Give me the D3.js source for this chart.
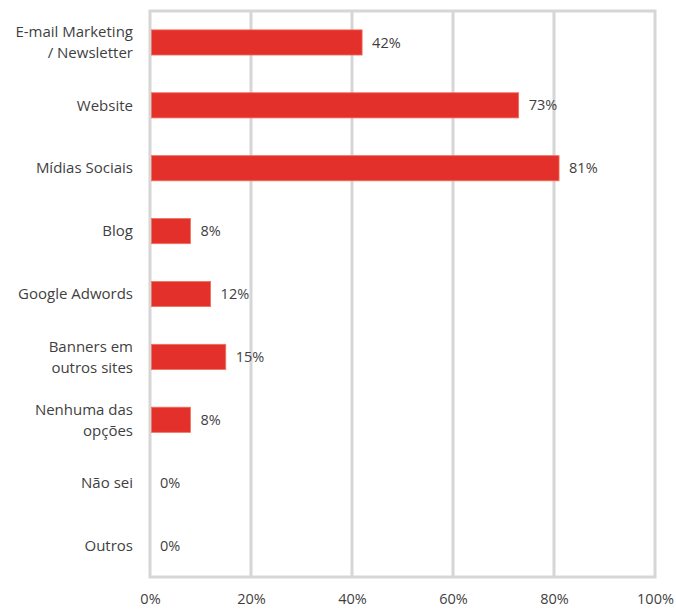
<!DOCTYPE html>
<html>
<head>
<meta charset="utf-8">
<script src="https://cdn.jsdelivr.net/npm/d3@7"></script>
<style>
  html, body { margin: 0; padding: 0; background: #fff; }
  svg { display: block; font-family: "Open Sans", "Noto Sans", sans-serif; }
</style>
</head>
<body>
<svg id="chart" width="676" height="610"></svg>
<script>
// Channels used (each label may wrap onto two lines)
const categories = [
  ["E-mail Marketing", "/ Newsletter"],
  ["Website"],
  ["Mídias Sociais"],
  ["Blog"],
  ["Google Adwords"],
  ["Banners em", "outros sites"],
  ["Nenhuma das", "opções"],
  ["Não sei"],
  ["Outros"]
];
const values = [42, 73, 81, 8, 12, 15, 8, 0, 0];
const xTicks = [0, 20, 40, 60, 80, 100];

const svg = d3.select("#chart");
const margin = { top: 11, right: 21, bottom: 33, left: 150 };
const width = 676 - margin.left - margin.right;
const height = 610 - margin.top - margin.bottom;

const g = svg.append("g").attr("transform", `translate(${margin.left},${margin.top})`);

const x = d3.scaleLinear().domain([0, 100]).range([0, width]);
const y = d3.scaleBand().domain(d3.range(categories.length)).range([0, height]).paddingInner(0.6).paddingOuter(0.3);

const gridColor = "#d6d6d6";
const textColor = "#3f3f3f";

// vertical gridlines
g.selectAll(".grid")
  .data(xTicks.slice(1, -1))
  .join("line")
  .attr("x1", d => x(d)).attr("x2", d => x(d))
  .attr("y1", 0).attr("y2", height)
  .attr("stroke", gridColor).attr("stroke-width", 3);

// plot frame
g.append("rect")
  .attr("x", 0).attr("y", 0).attr("width", width).attr("height", height)
  .attr("fill", "none").attr("stroke", gridColor).attr("stroke-width", 3);

// bars
g.selectAll(".bar")
  .data(values)
  .join("rect")
  .attr("x", x(0) + 1.5)
  .attr("y", (d, i) => y(i))
  .attr("width", d => Math.max(0, x(d) - x(0) - 1.5))
  .attr("height", y.bandwidth())
  .attr("fill", "#e4302b")
  .attr("stroke", "#f0705a").attr("stroke-width", 0.8);

// value labels
g.selectAll(".val")
  .data(values)
  .join("text")
  .attr("x", d => x(d) + 10)
  .attr("y", (d, i) => y(i) + y.bandwidth() / 2)
  .attr("dy", "0.35em")
  .attr("font-size", 14.5)
  .attr("fill", textColor)
  .text(d => d + "%");

// x axis
const xAxis = g.append("g")
  .attr("transform", `translate(0,${height})`)
  .call(d3.axisBottom(x).tickValues(xTicks).tickFormat(d => d + "%").tickSize(0).tickPadding(17));
xAxis.select(".domain").remove();
xAxis.selectAll("text").attr("font-size", 14.5).attr("fill", textColor).attr("font-family", "\"Open Sans\", sans-serif");

// category labels
const catG = g.selectAll(".cat")
  .data(categories)
  .join("text")
  .attr("text-anchor", "end")
  .attr("font-size", 15)
  .attr("fill", textColor)
  .attr("transform", (d, i) => `translate(-17,${y(i) + y.bandwidth() / 2})`);
catG.each(function(lines) {
  const t = d3.select(this);
  const lh = 21;
  const start = -(lines.length - 1) * lh / 2;
  lines.forEach((ln, k) => {
    t.append("tspan").attr("x", 0).attr("y", start + k * lh).attr("dy", "0.35em").text(ln);
  });
});
</script>
</body>
</html>
